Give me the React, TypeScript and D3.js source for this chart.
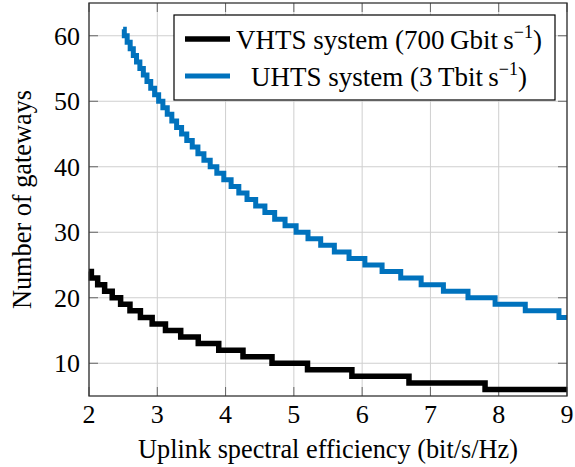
import React from "react";
import * as d3 from "d3";

// Step breakpoints (x = spectral efficiency, y = gateways)
const vhtsEta = [2, 2.035, 2.127, 2.229, 2.34, 2.463, 2.6, 2.753, 2.925, 3.12, 3.343, 3.6, 3.9, 4.255, 4.68, 5.2, 5.85, 6.686, 7.8, 9];
const vhtsGw = [24, 23, 22, 21, 20, 19, 18, 17, 16, 15, 14, 13, 12, 11, 10, 9, 8, 7, 6, 6];

const uhtsEta = [2.5, 2.517, 2.559, 2.603, 2.649, 2.696, 2.745, 2.796, 2.849, 2.904, 2.961, 3.02, 3.082, 3.146, 3.213, 3.283, 3.356, 3.432, 3.512, 3.595, 3.683, 3.775, 3.872, 3.974, 4.081, 4.194, 4.314, 4.441, 4.576, 4.719, 4.871, 5.033, 5.207, 5.393, 5.593, 5.808, 6.04, 6.292, 6.565, 6.864, 7.19, 7.55, 7.947, 8.389, 8.882, 9];
const uhtsGw = [61, 60, 59, 58, 57, 56, 55, 54, 53, 52, 51, 50, 49, 48, 47, 46, 45, 44, 43, 42, 41, 40, 39, 38, 37, 36, 35, 34, 33, 32, 31, 30, 29, 28, 27, 26, 25, 24, 23, 22, 21, 20, 19, 18, 17, 17];

const xTicks = [2, 3, 4, 5, 6, 7, 8, 9];
const yTicks = [10, 20, 30, 40, 50, 60];
const xDomain = [2, 9];
const yDomain = [5, 65];

const W = 575, H = 467;
const M = { left: 89, right: 567, top: 3, bottom: 396 };
const FONT = "'Liberation Serif', 'Times New Roman', serif";
const BLUE = "#0072BD";

export default function App() {
  const x = d3.scaleLinear().domain(xDomain).range([M.left, M.right]);
  const y = d3.scaleLinear().domain(yDomain).range([M.bottom, M.top]);
  const line = d3
    .line<[number, number]>()
    .x((d) => x(d[0]))
    .y((d) => y(d[1]))
    .curve(d3.curveStepAfter);
  const vhts = vhtsEta.map((e, i) => [e, vhtsGw[i]] as [number, number]);
  const uhts = uhtsEta.map((e, i) => [e, uhtsGw[i]] as [number, number]);
  const tickLen = 9;
  const gridC = "#cfcfcf";
  const tickC = "#666";

  const legendCx = 389;
  return (
    <svg width={W} height={H} style={{ position: "absolute", left: 0, top: 0, background: "#fff" }} fontFamily={FONT}>
      <rect x={0} y={0} width={W} height={H} fill="#fff" />
      {/* grid */}
      {xTicks.map((t) => (
        <line key={"gx" + t} x1={x(t)} x2={x(t)} y1={M.top} y2={M.bottom} stroke={gridC} strokeWidth={1} />
      ))}
      {yTicks.map((t) => (
        <line key={"gy" + t} x1={M.left} x2={M.right} y1={y(t)} y2={y(t)} stroke={gridC} strokeWidth={1} />
      ))}
      {/* ticks inside on all sides */}
      {xTicks.map((t) => (
        <g key={"tx" + t}>
          <line x1={x(t)} x2={x(t)} y1={M.bottom} y2={M.bottom - tickLen} stroke={tickC} strokeWidth={1} />
          <line x1={x(t)} x2={x(t)} y1={M.top} y2={M.top + tickLen} stroke={tickC} strokeWidth={1} />
        </g>
      ))}
      {yTicks.map((t) => (
        <g key={"ty" + t}>
          <line x1={M.left} x2={M.left + tickLen} y1={y(t)} y2={y(t)} stroke={tickC} strokeWidth={1} />
          <line x1={M.right} x2={M.right - tickLen} y1={y(t)} y2={y(t)} stroke={tickC} strokeWidth={1} />
        </g>
      ))}
      {/* data */}
      <path d={line(vhts) || ""} fill="none" stroke="#000" strokeWidth={5.5} strokeLinejoin="miter" />
      <path d={line(uhts) || ""} fill="none" stroke={BLUE} strokeWidth={5} strokeLinejoin="miter" />
      {/* frame */}
      <rect x={M.left} y={M.top} width={M.right - M.left} height={M.bottom - M.top} fill="none" stroke="#333" strokeWidth={1.3} />
      {/* tick labels */}
      {xTicks.map((t) => (
        <text key={"lx" + t} x={x(t)} y={423} textAnchor="middle" fontSize={26} fill="#000">
          {t}
        </text>
      ))}
      {yTicks.map((t) => (
        <text key={"ly" + t} x={80} y={y(t) + 9} textAnchor="end" fontSize={26} fill="#000">
          {t}
        </text>
      ))}
      {/* axis labels */}
      <text x={(M.left + M.right) / 2} y={458} textAnchor="middle" fontSize={26.3} fill="#000">
        Uplink spectral efficiency (bit/s/Hz)
      </text>
      <text transform={`translate(31, ${(M.top + M.bottom) / 2}) rotate(-90)`} textAnchor="middle" fontSize={26.3} fill="#000">
        Number of gateways
      </text>
      {/* legend */}
      <rect x={174} y={15} width={381} height={85} fill="#fff" stroke="#000" strokeWidth={1.2} />
      <line x1={185} x2={230} y1={39} y2={39} stroke="#000" strokeWidth={5.5} />
      <line x1={185} x2={230} y1={76} y2={76} stroke={BLUE} strokeWidth={5} />
      <text x={legendCx} y={49} textAnchor="middle" fontSize={27} fill="#000">
        VHTS system (700{"\u2009"}Gbit{"\u2009"}s
        <tspan fontSize={18} dy={-11}>{"\u22121"}</tspan>
        <tspan dy={11}>)</tspan>
      </text>
      <text x={legendCx} y={86} textAnchor="middle" fontSize={27} fill="#000">
        UHTS system (3{"\u2009"}Tbit{"\u2009"}s
        <tspan fontSize={18} dy={-11}>{"\u22121"}</tspan>
        <tspan dy={11}>)</tspan>
      </text>
    </svg>
  );
}
